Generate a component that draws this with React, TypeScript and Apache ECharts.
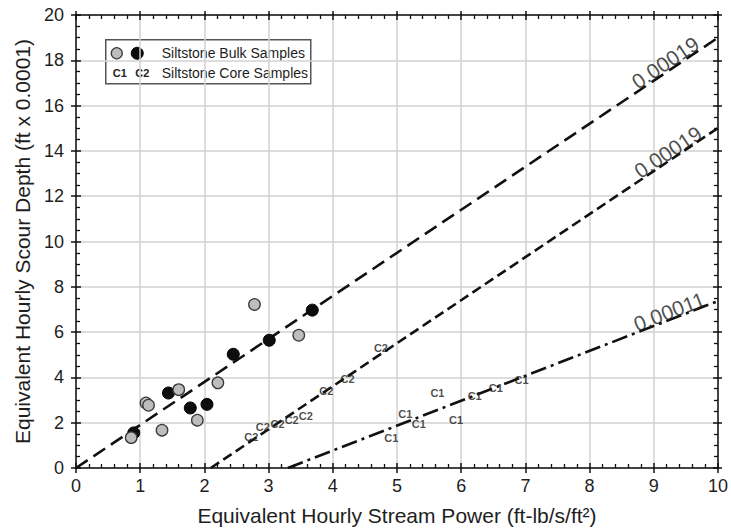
import React, { useEffect, useRef } from "react";
import * as echarts from "echarts";

// Siltstone bulk samples (two sample sets: grey and black markers)
const bulkGrey: number[][] = [
  [0.86, 1.34], [1.09, 2.87], [1.13, 2.77], [1.34, 1.67], [1.6, 3.46],
  [1.89, 2.11], [2.21, 3.76], [2.78, 7.22], [3.47, 5.86],
];
const bulkBlack: number[][] = [
  [0.9, 1.55], [1.44, 3.31], [1.78, 2.65], [2.04, 2.81], [2.45, 5.02],
  [3.01, 5.64], [3.68, 6.97],
];

// Siltstone core samples, plotted as text markers
const coreC1: number[][] = [
  [4.91, 1.34], [5.13, 2.4], [5.34, 1.96], [5.63, 3.31], [5.92, 2.14],
  [6.21, 3.17], [6.54, 3.54], [6.94, 3.88],
];
const coreC2: number[][] = [
  [2.73, 1.37], [2.91, 1.81], [3.14, 1.96], [3.36, 2.12], [3.58, 2.28],
  [3.9, 3.39], [4.23, 3.95], [4.75, 5.28],
];

// Fitted trend lines: depth = slope * (power - offset)
const slopes = [1.9, 1.9, 1.1];
const offsets = [0, 2.1, 3.3];
const slopeLabels = ["0.00019", "0.00019", "0.00011"];
const slopeLabelAt: number[][] = [[9.18, 17.9], [9.22, 13.95], [9.24, 6.9]];

const xTicks = [0, 1, 2, 3, 4, 5, 6, 7, 8, 9, 10];
const yTicks = [0, 2, 4, 6, 8, 10, 12, 14, 16, 18, 20];

const FONT = "Liberation Sans, Arial, Helvetica, sans-serif";
const INK = "#1e1e1e";

export default function App() {
  const ref = useRef<HTMLDivElement>(null);

  useEffect(() => {
    if (!ref.current) return;
    const chart = echarts.init(ref.current, undefined, { renderer: "svg" });

    const xMin = xTicks[0];
    const xMax = xTicks[xTicks.length - 1];
    const yMin = yTicks[0];
    const yMax = yTicks[yTicks.length - 1];

    const trend = (i: number) => {
      const start = offsets[i];
      return [
        [start, 0],
        [xMax, slopes[i] * (xMax - start)],
      ];
    };

    const gridLeft = 76;
    const gridRight = 11;
    const gridTop = 15;
    const gridBottom = 63;
    const plotW = 731 - gridLeft - gridRight;
    const plotH = 531 - gridTop - gridBottom;
    const angleOf = (s: number) =>
      (Math.atan((s * plotH) / (yMax - yMin) / (plotW / (xMax - xMin))) * 180) / Math.PI;

    const baseX = {
      type: "value" as const,
      min: xMin,
      max: xMax,
      interval: 1,
    };
    const baseY = {
      type: "value" as const,
      min: yMin,
      max: yMax,
      interval: 2,
    };
    const axisLineStyle = { color: "#111", width: 1.5 };
    const minorStyle = { color: "#111", width: 1.3 };
    const hidden = { show: false };

    const xAxes = [
      {
        ...baseX,
        position: "bottom",
        axisLine: { show: true, lineStyle: axisLineStyle, onZero: false },
        axisTick: { show: true, inside: false, length: 5, lineStyle: axisLineStyle },
        axisLabel: { show: true, fontSize: 18, color: INK, fontFamily: FONT, margin: 9 },
        splitLine: { show: true, lineStyle: { color: "#d2d2d2", width: 1.5 } },
        name: "Equivalent Hourly Stream Power (ft-lb/s/ft²)",
        nameLocation: "middle",
        nameGap: 37,
        nameTextStyle: { fontSize: 21, color: INK, fontFamily: FONT },
      },
      {
        ...baseX,
        position: "bottom",
        axisLine: { show: false, onZero: false },
        axisTick: { show: true, inside: true, length: 5, lineStyle: axisLineStyle },
        minorTick: { show: true, splitNumber: 5, length: 4, lineStyle: minorStyle },
        axisLabel: hidden,
        splitLine: hidden,
      },
      {
        ...baseX,
        position: "top",
        axisLine: { show: true, lineStyle: axisLineStyle, onZero: false },
        axisTick: { show: true, inside: true, length: 5, lineStyle: axisLineStyle },
        minorTick: { show: true, splitNumber: 5, length: 4, lineStyle: minorStyle },
        axisLabel: hidden,
        splitLine: hidden,
      },
      {
        ...baseX,
        position: "top",
        axisLine: { show: false, onZero: false },
        axisTick: { show: true, inside: false, length: 4, lineStyle: axisLineStyle },
        axisLabel: hidden,
        splitLine: hidden,
      },
    ];

    const yAxes = [
      {
        ...baseY,
        position: "left",
        axisLine: { show: true, lineStyle: axisLineStyle, onZero: false },
        axisTick: { show: true, inside: false, length: 5, lineStyle: axisLineStyle },
        axisLabel: { show: true, fontSize: 18, color: INK, fontFamily: FONT, margin: 12 },
        splitLine: { show: true, lineStyle: { color: "#d2d2d2", width: 1.5 } },
        name: "Equivalent Hourly Scour Depth (ft x 0.0001)",
        nameLocation: "middle",
        nameGap: 40,
        nameTextStyle: { fontSize: 21, color: INK, fontFamily: FONT },
      },
      {
        ...baseY,
        position: "left",
        axisLine: { show: false, onZero: false },
        axisTick: { show: true, inside: true, length: 5, lineStyle: axisLineStyle },
        minorTick: { show: true, splitNumber: 4, length: 4, lineStyle: minorStyle },
        axisLabel: hidden,
        splitLine: hidden,
      },
      {
        ...baseY,
        position: "right",
        axisLine: { show: true, lineStyle: axisLineStyle, onZero: false },
        axisTick: { show: true, inside: true, length: 5, lineStyle: axisLineStyle },
        minorTick: { show: true, splitNumber: 4, length: 4, lineStyle: minorStyle },
        axisLabel: hidden,
        splitLine: hidden,
      },
      {
        ...baseY,
        position: "right",
        axisLine: { show: false, onZero: false },
        axisTick: { show: true, inside: false, length: 4, lineStyle: axisLineStyle },
        axisLabel: hidden,
        splitLine: hidden,
      },
    ];

    const dashPatterns: any[] = [[14, 7], [10, 5], [16, 5, 3, 5]];

    const trendSeries = [0, 1, 2].map((i) => ({
      type: "line",
      data: trend(i),
      showSymbol: false,
      symbol: "none",
      z: 3,
      lineStyle: { color: "#111", width: 2.6, type: dashPatterns[i] },
    }));

    const slopeLabelSeries = [0, 1, 2].map((i) => ({
      type: "scatter",
      data: [slopeLabelAt[i]],
      symbolSize: 0,
      z: 4,
      label: {
        show: true,
        position: "inside",
        formatter: slopeLabels[i],
        rotate: angleOf(slopes[i]),
        fontSize: 21,
        color: INK,
        fontFamily: FONT,
      },
    }));

    const coreSeries = [
      { name: "C1", data: coreC1 },
      { name: "C2", data: coreC2 },
    ].map((s) => ({
      type: "scatter",
      data: s.data,
      symbolSize: 0,
      z: 5,
      label: {
        show: true,
        position: "inside",
        formatter: s.name,
        fontSize: 11,
        fontWeight: "bold",
        color: INK,
        fontFamily: FONT,
      },
    }));

    const legendX = 105;
    const legendY = 39;

    chart.setOption({
      animation: false,
      backgroundColor: "#ffffff",
      grid: { left: gridLeft, right: gridRight, top: gridTop, bottom: gridBottom, containLabel: false },
      xAxis: xAxes,
      yAxis: yAxes,
      series: [
        ...trendSeries,
        {
          type: "scatter",
          data: bulkBlack,
          symbolSize: 12,
          z: 6,
          itemStyle: { color: "#0d0d0d", borderColor: "#000", borderWidth: 1, opacity: 1 },
        },
        {
          type: "scatter",
          data: bulkGrey,
          symbolSize: 11.5,
          z: 7,
          itemStyle: { color: "#bdbdbd", borderColor: "#3a3a3a", borderWidth: 1.3, opacity: 1 },
        },
        ...coreSeries,
        ...slopeLabelSeries,
      ],
      graphic: [
        {
          type: "group",
          left: legendX,
          top: legendY,
          z: 100,
          children: [
            {
              type: "rect",
              shape: { x: 0, y: 0, width: 205, height: 44 },
              style: { fill: "#ffffff", stroke: "#555", lineWidth: 1.5 },
            },
            {
              type: "circle",
              shape: { cx: 11, cy: 13.5, r: 5.5 },
              style: { fill: "#bdbdbd", stroke: "#3a3a3a", lineWidth: 1.3 },
            },
            {
              type: "circle",
              shape: { cx: 31.5, cy: 13.5, r: 6 },
              style: { fill: "#0d0d0d", stroke: "#000", lineWidth: 1 },
            },
            {
              type: "text",
              x: 56,
              y: 13.5,
              style: {
                text: "Siltstone Bulk Samples",
                fontSize: 14,
                fontFamily: FONT,
                fill: INK,
                verticalAlign: "middle",
              },
            },
            {
              type: "text",
              x: 14,
              y: 33,
              style: {
                text: "C1",
                fontSize: 11,
                fontWeight: "bold",
                fontFamily: FONT,
                fill: INK,
                align: "center",
                verticalAlign: "middle",
              },
            },
            {
              type: "text",
              x: 36.5,
              y: 33,
              style: {
                text: "C2",
                fontSize: 11,
                fontWeight: "bold",
                fontFamily: FONT,
                fill: INK,
                align: "center",
                verticalAlign: "middle",
              },
            },
            {
              type: "text",
              x: 56,
              y: 33,
              style: {
                text: "Siltstone Core Samples",
                fontSize: 14,
                fontFamily: FONT,
                fill: INK,
                verticalAlign: "middle",
              },
            },
          ],
        },
      ],
    });

    return () => chart.dispose();
  }, []);

  return (
    <div
      ref={ref}
      style={{ position: "absolute", left: 0, top: 0, width: 731, height: 531, background: "#fff" }}
    />
  );
}
